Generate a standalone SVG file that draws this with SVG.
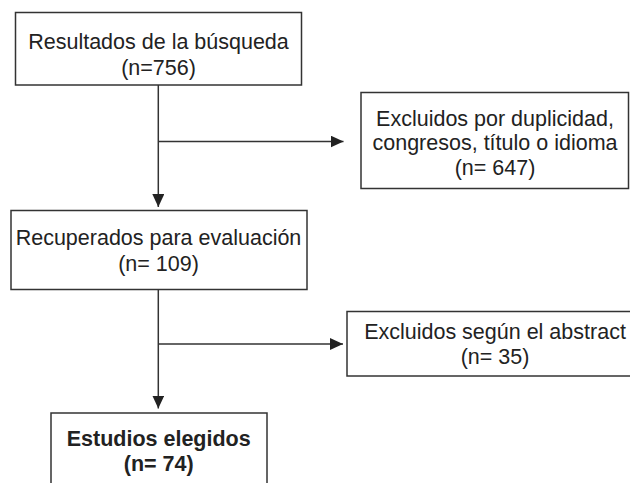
<svg xmlns="http://www.w3.org/2000/svg" width="630" height="483" viewBox="0 0 630 483">
<defs>
<style>
.box{fill:#fff;stroke:#333;stroke-width:1.5}
.t{font-family:"Liberation Sans",Arial,sans-serif;font-size:21.5px;fill:#222;text-anchor:middle}
.b{font-weight:bold}
.ln{fill:none;stroke:#333;stroke-width:1.5}
</style>
<marker id="ah" markerWidth="13" markerHeight="12" refX="13" refY="6" orient="auto" markerUnits="userSpaceOnUse">
<path d="M0,0 L13,6 L0,12 Z" fill="#222"/>
</marker>
</defs>
<rect width="630" height="483" fill="#fff"/>
<g id="connectors">
<path class="ln" d="M158.3,85 V207" marker-end="url(#ah)"/>
<path class="ln" d="M158.3,141.5 H343.5" marker-end="url(#ah)"/>
<path class="ln" d="M158.3,289.5 V408.5" marker-end="url(#ah)"/>
<path class="ln" d="M158.3,344 H343" marker-end="url(#ah)"/>
</g>
<g id="n1">
<rect class="box" x="15.5" y="12.5" width="286" height="72.5"/>
<text class="t" x="158.5" y="48.5">Resultados de la búsqueda</text>
<text class="t" x="158.5" y="74.5">(n=756)</text>
</g>
<g id="n2">
<rect class="box" x="361" y="92.5" width="267.5" height="96"/>
<text class="t" x="495" y="125.5">Excluidos por duplicidad,</text>
<text class="t" x="495" y="150">congresos, título o idioma</text>
<text class="t" x="495" y="174.5">(n= 647)</text>
</g>
<g id="n3">
<rect class="box" x="11" y="210.5" width="296" height="79"/>
<text class="t" x="158.5" y="245">Recuperados para evaluación</text>
<text class="t" x="158.5" y="271">(n= 109)</text>
</g>
<g id="n4">
<rect class="box" x="347" y="311.5" width="300" height="64.5"/>
<text class="t" x="495" y="339">Excluidos según el abstract</text>
<text class="t" x="495" y="364">(n= 35)</text>
</g>
<g id="n5">
<rect class="box" x="51" y="413" width="216" height="90"/>
<text class="t b" x="158.7" y="445.5">Estudios elegidos</text>
<text class="t b" x="158.7" y="471">(n= 74)</text>
</g>
</svg>
